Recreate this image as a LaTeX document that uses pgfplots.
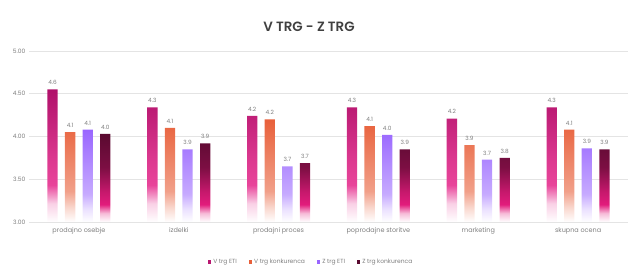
\documentclass[border=0pt]{standalone}
\usepackage{pgfplots}
\pgfplotsset{compat=1.18}
\usepackage{fontspec}
\setmainfont{Poppins}
\newfontfamily\titlefont{Poppins SemiBold}
\definecolor{txt}{HTML}{7F7F7F}
\definecolor{gridc}{HTML}{E4E4E4}
\definecolor{cA}{HTML}{B0106A}
\definecolor{pA}{HTML}{E8449A}
\definecolor{cB}{HTML}{E8603A}
\definecolor{cC}{HTML}{9966FF}
\definecolor{cD}{HTML}{5A0A30}
\definecolor{pD}{HTML}{E21C7C}
\pgfdeclareverticalshading{shA}{100bp}{color(0bp)=(white); color(25bp)=(white); color(32bp)=(pA!25!white); color(39bp)=(pA); color(48bp)=(pA!80!cA); color(75bp)=(cA); color(100bp)=(cA)}
\pgfdeclareverticalshading{shB}{100bp}{color(0bp)=(white); color(25bp)=(white); color(32bp)=(cB!25!white); color(40bp)=(cB!60!white); color(75bp)=(cB); color(100bp)=(cB)}
\pgfdeclareverticalshading{shC}{100bp}{color(0bp)=(white); color(25bp)=(white); color(32bp)=(cC!20!white); color(40bp)=(cC!55!white); color(75bp)=(cC); color(100bp)=(cC)}
\pgfdeclareverticalshading{shD}{100bp}{color(0bp)=(white); color(25bp)=(white); color(30bp)=(pD!30!white); color(35bp)=(pD); color(42bp)=(pD!80!cD); color(56bp)=(cD!75!pD); color(75bp)=(cD); color(100bp)=(cD)}
\pgfplotstableread{
x a la b lb c lc d ld
0 4.55 4.6 4.05 4.1 4.08 4.1 4.03 4.0
1 4.34 4.3 4.10 4.1 3.85 3.9 3.92 3.9
2 4.24 4.2 4.20 4.2 3.65 3.7 3.69 3.7
3 4.34 4.3 4.12 4.1 4.02 4.0 3.85 3.9
4 4.21 4.2 3.90 3.9 3.73 3.7 3.75 3.8
5 4.34 4.3 4.08 4.1 3.86 3.9 3.85 3.9
}\data
\begin{document}
\begin{tikzpicture}
\path[use as bounding box] (0,0) rectangle (629bp,266bp);
\node[font=\titlefont\fontsize{13.5}{15}\selectfont, text=black!75] at (309bp,239bp) {V TRG - Z TRG};
\begin{axis}[
  at={(29bp,44bp)}, anchor=south west,
  scale only axis, width=599bp, height=171bp,
  xmin=-0.5, xmax=5.5, ymin=3, ymax=5,
  ytick={3,3.5,4,4.5,5},
  /pgf/number format/assume math mode=true,
  xtick={0,1,2,3,4,5},
  xticklabels={prodajno osebje, izdelki, prodajni proces, poprodajne storitve, marketing, skupna ocena},
  xticklabel style={font=\fontsize{6.5}{7.5}\selectfont, text=txt, yshift=-2bp},
  yticklabel style={font=\fontsize{6}{7}\selectfont, text=txt, /pgf/number format/.cd, fixed, fixed zerofill, precision=2},
  ymajorgrids, xmajorgrids=false, grid style={draw=gridc, line width=0.6pt},
  axis line style={draw=none},
  xtick style={draw=none}, ytick style={draw=none},
  major tick length=0pt,
  ybar=7.3bp, bar width=10.3bp,
  clip=false,
  nodes near coords,
  point meta=explicit symbolic,
  every node near coord/.append style={font=\fontsize{5.8}{6.5}\selectfont, text=txt, yshift=1pt},
]
\addplot[draw=none, shading=shA, shade] table[x=x, y=a, meta=la] {\data};
\addplot[draw=none, shading=shB, shade] table[x=x, y=b, meta=lb] {\data};
\addplot[draw=none, shading=shC, shade] table[x=x, y=c, meta=lc] {\data};
\addplot[draw=none, shading=shD, shade] table[x=x, y=d, meta=ld] {\data};
\end{axis}
\begin{axis}[
  at={(29bp,44bp)}, anchor=south west,
  scale only axis, width=599bp, height=171bp,
  xmin=0, xmax=1, ymin=0, ymax=1, hide axis,
  legend style={at={(0.471,-0.235)}, anchor=center, draw=none, legend columns=4,
    font=\fontsize{6}{7}\selectfont, text=txt, /tikz/every even column/.append style={column sep=10bp}},
  legend image code/.code={\fill[#1] (0bp,-1.7bp) rectangle (3.4bp,1.7bp);},
]
\addlegendimage{fill=cA!85!pA, draw=none}
\addlegendentry{V trg ETI}
\addlegendimage{fill=cB, draw=none}
\addlegendentry{V trg konkurenca}
\addlegendimage{fill=cC, draw=none}
\addlegendentry{Z trg ETI}
\addlegendimage{fill=cD, draw=none}
\addlegendentry{Z trg konkurenca}
\end{axis}
\end{tikzpicture}
\end{document}
